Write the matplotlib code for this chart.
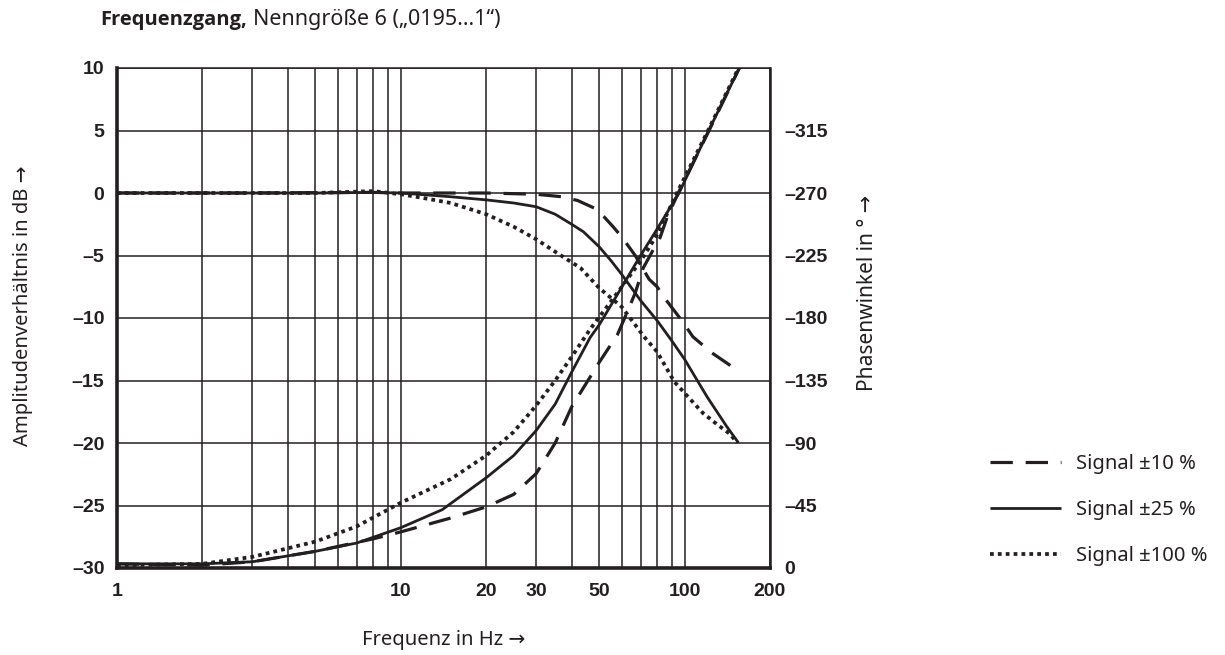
import matplotlib.pyplot as plt

# Amplitude curves (dB)
f_amp10 = [1, 3, 8, 10, 20, 30, 37, 42, 48, 52, 56, 60, 67, 75, 80, 85, 97, 107, 125, 145]
amp10 = [0, 0, 0.05, 0, 0, -0.1, -0.3, -0.6, -1.2, -1.9, -2.7, -3.5, -5.0, -6.9, -7.5, -8.4, -10.1, -11.5, -12.8, -13.8]

f_amp25 = [1, 5, 8, 10, 15, 20, 25, 30, 35, 40, 44, 50, 55, 60, 70, 80, 90, 100, 120, 140, 155]
amp25 = [0, 0, 0.05, 0, -0.3, -0.55, -0.8, -1.1, -1.7, -2.5, -3.1, -4.3, -5.4, -6.5, -8.6, -10.2, -11.8, -13.3, -16.3, -18.6, -20.0]

f_amp100 = [1, 5, 8, 10, 12, 15, 20, 25, 30, 35, 43, 50, 60, 72, 80, 92, 100, 116, 130, 145, 153]
amp100 = [0, 0, 0.15, -0.1, -0.4, -0.8, -1.7, -2.7, -3.7, -4.7, -6.0, -7.6, -9.1, -11.5, -12.7, -15.1, -16.0, -17.6, -18.5, -19.3, -20.0]

# Phase curves (degrees)
f_ph10 = [1, 2, 3, 5, 8, 10, 15, 20, 25, 30, 35, 40, 50, 58, 63, 67, 71.5, 77, 82, 87, 95, 122, 156]
ph10 = [-3, -2, -4.5, -12, -21, -26, -36, -44, -53, -68, -90, -116, -148, -168, -185, -198, -216, -228, -238, -253, -270, -315, -360]

f_ph25 = [1, 2, 3, 5, 7, 10, 14, 20, 25, 30, 35, 40, 46.5, 50, 60, 69, 80, 95.6, 121.6, 156]
ph25 = [-3, -3, -4.5, -12, -18, -29, -42, -65, -81, -99, -118, -141, -166, -175, -202, -223, -244, -270, -315, -360]

f_ph100 = [1, 2, 3, 5, 7, 10, 15, 20, 25, 30, 35, 40, 46.5, 56, 70, 80, 94, 121, 155]
ph100 = [-2, -3, -8, -19, -30, -47, -64, -81, -98, -117, -135, -152, -172, -194, -221, -240, -270, -315, -360]

x_grid = [1, 2, 3, 4, 5, 6, 7, 8, 9, 10, 20, 30, 40, 50, 60, 70, 80, 90, 100, 200]
x_labels = ['1', '', '', '', '', '', '', '', '', '10', '20', '30', '', '50', '', '', '', '', '100', '200']
db_ticks = [10, 5, 0, -5, -10, -15, -20, -25, -30]
phase_ticks = [0, -45, -90, -135, -180, -225, -270, -315]

ink = '#231f20'
tick_font = ['Liberation Sans Narrow', 'Liberation Sans', 'DejaVu Sans']
text_font = ['Noto Sans', 'DejaVu Sans']
bold_font = ['Open Sans', 'Noto Sans', 'DejaVu Sans']

def lbl(v):
    return str(v).replace('-', '\u2013')

fig = plt.figure(figsize=(12.25, 6.55), dpi=100)
ax = fig.add_axes([117 / 1225, 1 - 568 / 655, 653 / 1225, 500 / 655])
ax2 = ax.twinx()

dash_style = dict(color=ink, lw=2.3, dashes=(7, 4))
solid_style = dict(color=ink, lw=2.0, solid_capstyle='butt')
dot_style = dict(color=ink, lw=2.7, dashes=(1.0, 1.1))

l10, = ax.plot(f_amp10, amp10, **dash_style)
l25, = ax.plot(f_amp25, amp25, **solid_style)
l100, = ax.plot(f_amp100, amp100, **dot_style)
ax2.plot(f_ph10, ph10, **dash_style)
ax2.plot(f_ph25, ph25, **solid_style)
ax2.plot(f_ph100, ph100, **dot_style)

ax.set_xscale('log')
ax.set_xlim(1, 200)
ax.set_ylim(-30, 10)
ax2.set_ylim(0, -360)

ax.set_xticks(x_grid, x_labels)
ax.minorticks_off()
ax.set_yticks(db_ticks, [lbl(v) for v in db_ticks])
ax2.set_yticks(phase_ticks, [lbl(v) for v in phase_ticks])

ax.grid(True, color=ink, lw=1.1)
ax.set_axisbelow(True)
ax.tick_params(axis='y', length=0, pad=9, labelcolor=ink)
ax.tick_params(axis='x', length=0, pad=11, labelcolor=ink)
ax2.tick_params(length=0, pad=10, labelcolor=ink)
for t in ax.get_xticklabels() + ax.get_yticklabels() + ax2.get_yticklabels():
    t.set_family(tick_font)
    t.set_fontweight('bold')
    t.set_fontsize(14)

for side, w in [('left', 2.6), ('bottom', 2.6), ('top', 1.1), ('right', 1.8)]:
    ax.spines[side].set_linewidth(w)
    ax.spines[side].set_color(ink)
for s in ax2.spines.values():
    s.set_visible(False)

ax.set_xlabel('Frequenz in Hz \u2192', family=text_font, fontsize=14.5, color=ink)
ax.xaxis.set_label_coords(0.5, -0.125)
ax.set_ylabel('Amplitudenverhältnis in dB \u2192', family=text_font, fontsize=14.5, color=ink)
ax.yaxis.set_label_coords(-0.128, 0.525)
ax2.set_ylabel('Phasenwinkel in ° \u2192', family=text_font, fontsize=15, color=ink)
ax2.yaxis.set_label_coords(1.133, 0.55)

# Title: bold lead-in followed by regular text
t1 = fig.text(100 / 1225, 1 - 20 / 655, 'Frequenzgang,', family=bold_font, fontweight='bold',
              fontsize=14.5, color=ink, va='center')
fig.canvas.draw()
bb = t1.get_window_extent().transformed(fig.transFigure.inverted())
fig.text(bb.x1 + 0.005, 1 - 20 / 655, 'Nenngröße 6 (\u201e0195...1\u201c)', family=text_font,
         fontsize=15.5, color=ink, va='center')

fig.legend([l10, l25, l100], ['Signal ±10 %', 'Signal ±25 %', 'Signal ±100 %'],
           loc='upper left', bbox_to_anchor=(972 / 1225, 1 - 436 / 655), frameon=False,
           prop={'family': text_font, 'size': 14.5}, handlelength=3.5, handletextpad=0.75,
           labelspacing=1.3, labelcolor=ink)

fig.savefig('out.png', dpi=100)
